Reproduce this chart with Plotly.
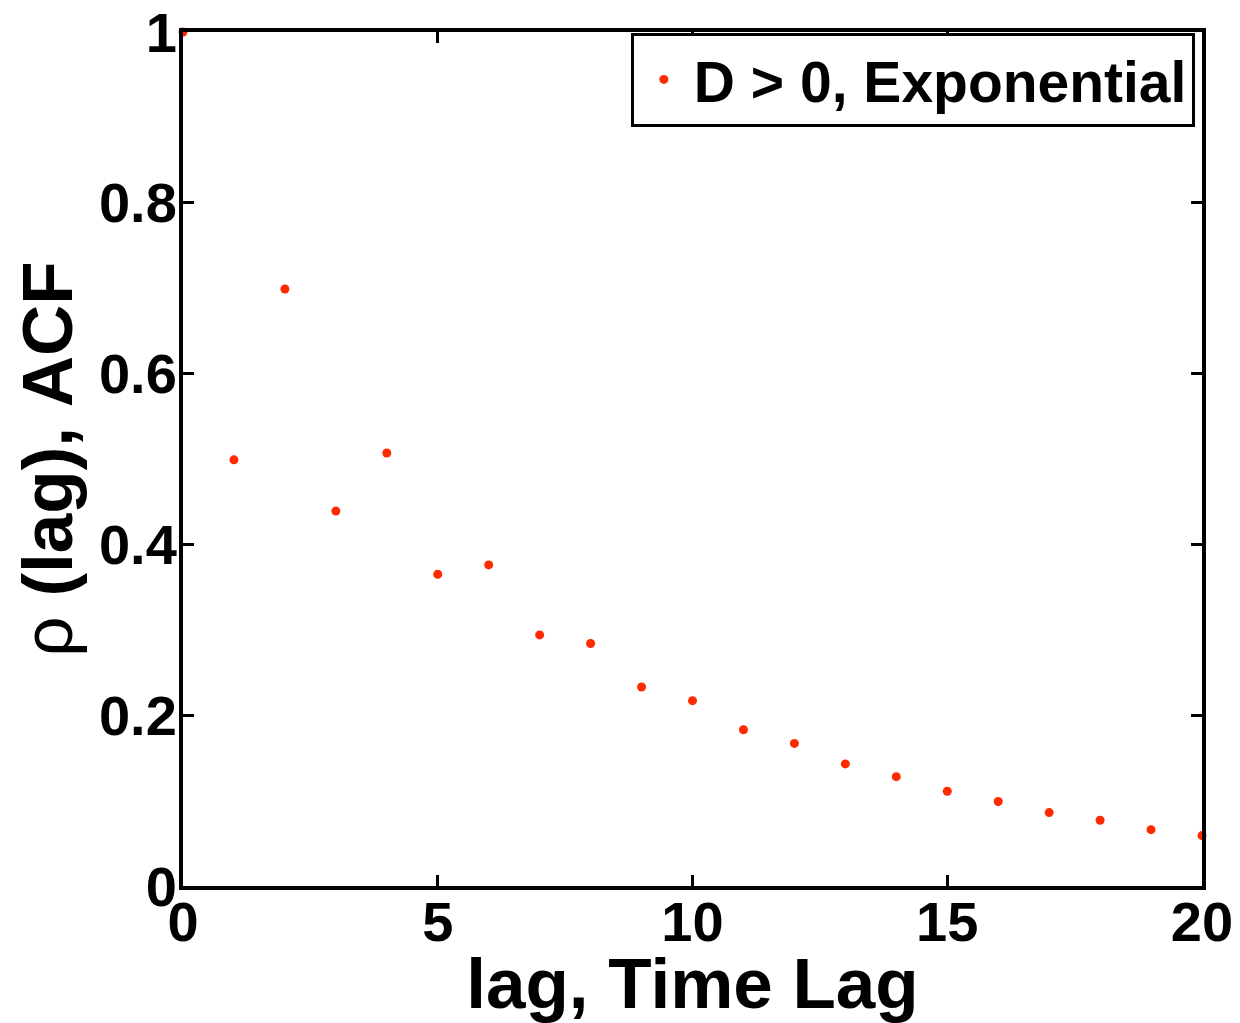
import plotly.graph_objects as go

# ACF values
lags = list(range(21))
acf = [1.0, 0.499, 0.699, 0.439, 0.507, 0.365, 0.376, 0.294, 0.284, 0.233, 0.217,
       0.183, 0.167, 0.143, 0.128, 0.111, 0.099, 0.086, 0.077, 0.066, 0.059]

x_ticks = [0, 5, 10, 15, 20]
y_ticks = [0, 0.2, 0.4, 0.6, 0.8, 1]
y_labels = ["0", "0.2", "0.4", "0.6", "0.8", "1"]

FONT = "Liberation Sans, Arial, sans-serif"

fig = go.Figure()
fig.add_trace(go.Scatter(
    x=lags, y=acf, mode="markers",
    marker=dict(color="#ff2a00", size=9),
    name="<b>D > 0, Exponential</b>",
    cliponaxis=False,
))

axis_common = dict(
    showline=True, linecolor="black", linewidth=4, mirror="ticks",
    ticks="inside", ticklen=11, tickwidth=3, tickcolor="black",
    showgrid=False, zeroline=False, automargin=False,
    ticklabeloverflow="allow",
    tickfont=dict(family=FONT, size=56, color="black", weight="bold"),
)

# page body adds an 8px offset, so the figure is sized a bit smaller
fig.update_layout(
    width=1232, height=1015,
    paper_bgcolor="white", plot_bgcolor="white",
    margin=dict(l=175, r=38, t=24, b=137),
    showlegend=True,
    legend=dict(
        x=0.993, y=0.999, xanchor="right", yanchor="top",
        bordercolor="black", borderwidth=3, bgcolor="white",
        font=dict(family=FONT, size=57, color="black"),
        itemsizing="trace", itemwidth=50, tracegroupgap=0,
    ),
    xaxis=dict(
        range=[0, 20], tickvals=x_ticks, ticklabelstandoff=-16, **axis_common,
        title=dict(text="<b>lag, Time Lag</b>",
                   font=dict(family=FONT, size=71, color="black"), standoff=16),
    ),
    yaxis=dict(
        range=[0, 1], tickvals=y_ticks, ticktext=y_labels,
        ticklabelstandoff=-9, **axis_common,
        title=dict(text="ρ <b>(lag), ACF</b>",
                   font=dict(family=FONT, size=71, color="black"), standoff=14),
    ),
)

fig.write_html("out.html")
